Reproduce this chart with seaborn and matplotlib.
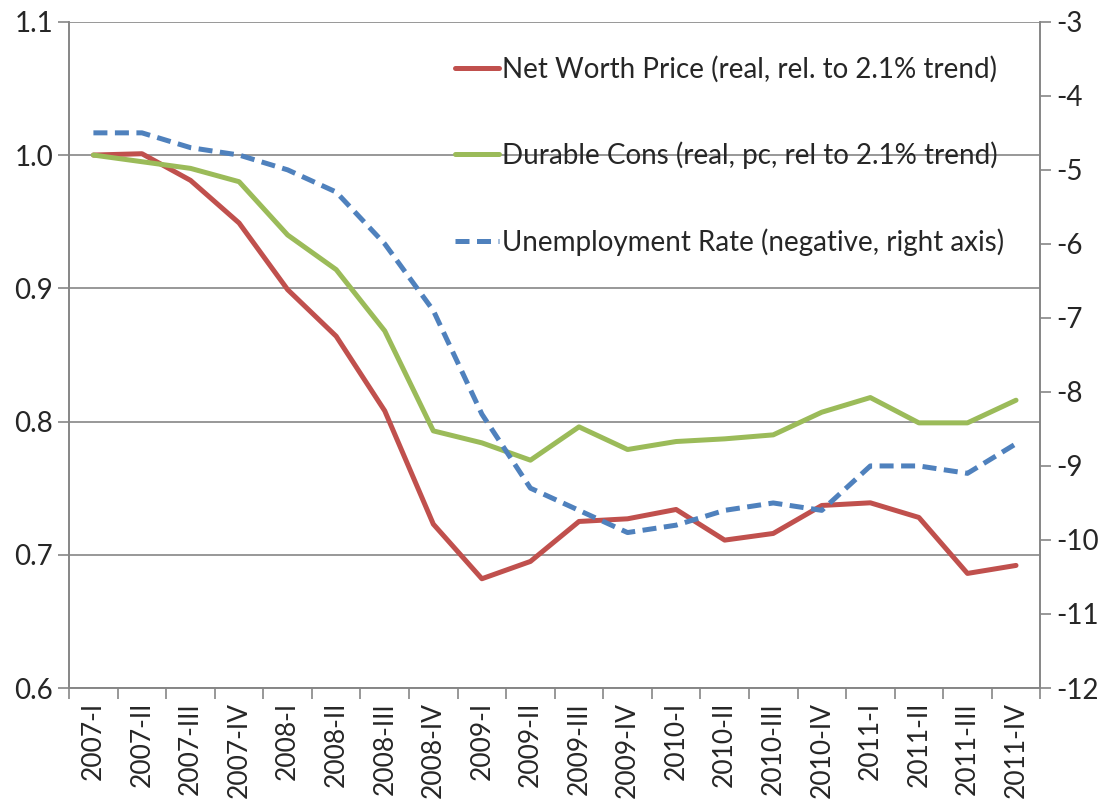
import numpy as np
import pandas as pd
import matplotlib as mpl
mpl.use('Agg')
import matplotlib.pyplot as plt
import seaborn as sns

quarters = ['2007-I', '2007-II', '2007-III', '2007-IV',
            '2008-I', '2008-II', '2008-III', '2008-IV',
            '2009-I', '2009-II', '2009-III', '2009-IV',
            '2010-I', '2010-II', '2010-III', '2010-IV',
            '2011-I', '2011-II', '2011-III', '2011-IV']

net_worth = [1.000, 1.001, 0.981, 0.949, 0.899, 0.864, 0.808, 0.723,
             0.682, 0.695, 0.725, 0.727, 0.734, 0.711, 0.716, 0.737,
             0.739, 0.728, 0.686, 0.692]

durable_cons = [1.000, 0.995, 0.990, 0.980, 0.940, 0.914, 0.868, 0.793,
                0.784, 0.771, 0.796, 0.779, 0.785, 0.787, 0.790, 0.807,
                0.818, 0.799, 0.799, 0.816]

unemp_neg = [-4.5, -4.5, -4.7, -4.8, -5.0, -5.3, -6.0, -6.9,
             -8.3, -9.3, -9.6, -9.9, -9.8, -9.6, -9.5, -9.6,
             -9.0, -9.0, -9.1, -8.7]

labels = ['Net Worth Price (real, rel. to 2.1% trend)',
          'Durable Cons (real, pc, rel to 2.1% trend)',
          'Unemployment Rate (negative, right axis)']

red, green, blue = '#C0504D', '#9BBB59', '#4F81BD'
grey = '#868686'

sns.set_style('white')
plt.rcParams['font.family'] = ['Lato', 'DejaVu Sans']
plt.rcParams['axes.unicode_minus'] = False

df = pd.DataFrame({'pos': np.arange(len(quarters)), 'nw': net_worth,
                   'dc': durable_cons, 'ur': unemp_neg})

fig = plt.figure(figsize=(11.15, 8.08), dpi=100)
ax = fig.add_axes([0.062, 0.1485, 0.871, 0.8245])
ax2 = ax.twinx()

sns.lineplot(data=df, x='pos', y='nw', ax=ax, color=red, lw=3.6,
             label=labels[0], legend=False)
sns.lineplot(data=df, x='pos', y='dc', ax=ax, color=green, lw=3.6,
             label=labels[1], legend=False)
sns.lineplot(data=df, x='pos', y='ur', ax=ax2, color=blue, lw=3.6,
             label=labels[2], legend=False)
ax2.lines[0].set_dashes([2.8, 1.5])

ax.set_xlim(-0.5, len(quarters) - 0.5)
ax.set_ylim(0.6, 1.1)
ax2.set_ylim(-12, -3)

ax.set_yticks(np.arange(0.6, 1.11, 0.1))
ax.set_yticklabels(['{:.1f}'.format(v) for v in np.arange(0.6, 1.11, 0.1)])
ax2.set_yticks(np.arange(-12, -2, 1))

ax.set_xticks(np.arange(len(quarters)))
ax.set_xticklabels(quarters, rotation=90)
ax.set_xticks(np.arange(-0.5, len(quarters), 1), minor=True)
ax.tick_params(axis='x', which='major', length=0, pad=10, labelsize=19)
ax.tick_params(axis='x', which='minor', length=8, width=1.2, color=grey,
               direction='out', bottom=True)
ax.tick_params(axis='y', length=8, width=1.2, color=grey, direction='out',
               labelsize=20, left=True)
ax2.tick_params(axis='y', length=8, width=1.2, color=grey, direction='out',
                labelsize=20, right=True)

ax.set_xlabel('')
ax.set_ylabel('')
ax2.set_ylabel('')

ax.yaxis.grid(True, color=grey, lw=1.2)
ax.set_axisbelow(True)
for a in (ax, ax2):
    a.spines['top'].set_visible(False)
    for s in ('left', 'right', 'bottom'):
        a.spines[s].set_color(grey)
        a.spines[s].set_linewidth(1.2)

handles = ax.get_lines()[:2] + ax2.get_lines()[:1]
ax.legend(handles, labels, loc='upper left', bbox_to_anchor=(0.397, 0.949),
          frameon=False, fontsize=20, handlelength=1.6, handletextpad=0.1,
          labelspacing=2.12, borderpad=0, borderaxespad=0)

fig.savefig('out.png', dpi=100)
